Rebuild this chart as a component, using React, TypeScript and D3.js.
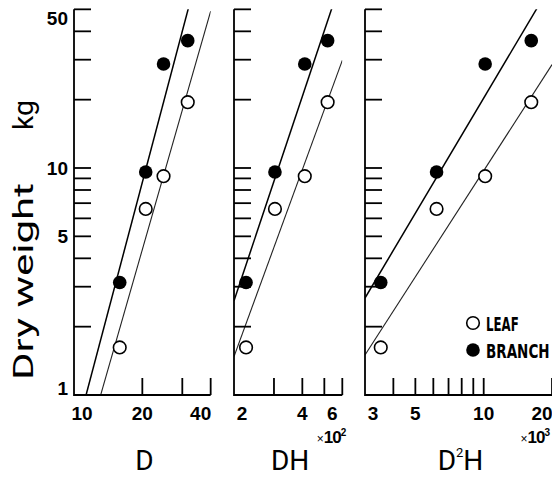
import React from 'react';
import * as d3 from 'd3';

// tree measurements (same four trees in every panel)
const dbh = [15.9, 20.7, 24.8, 31.7];
const dbhHeight = [226, 303, 410, 517];
const dbh2Height = [3520, 6200, 10150, 16200];

// dry weight, kg
const leafWeight = [1.62, 6.6, 9.2, 19.5];
const branchWeight = [3.13, 9.6, 28.7, 36.4];

// log10 W = a + b log10 X  for each panel
const leafFit = [[-3.9, 3.49], [-6.124, 2.735], [-5.224, 1.553]];
const branchFit = [[-3.981, 3.78], [-6.465, 2.99], [-5.432, 1.685]];

const yTicks = [2, 3, 4, 5, 6, 7, 8, 9, 10, 20, 30, 40, 50];
const yLabels = [1, 5, 10, 50];

const xDomains = [[10, 40], [200, 600], [3000, 20000]];
const xTickSets = [
  [20, 30, 40],
  [300, 400, 500, 600],
  [4000, 5000, 6000, 7000, 8000, 9000, 10000, 20000],
];
const xLabelSets = [[10, 20, 40], [200, 400, 600], [3000, 5000, 10000, 20000]];
const xFactors = [1, 100, 1000];
const xTitles = ['D', 'DH', 'D2H'];
const xValues = [dbh, dbhHeight, dbh2Height];

const DECADE = 227;
const BASE = 395;
const panelStarts = [74, 234, 365];
const TICK = 17;
const labelFont = '"Liberation Sans", Arial, sans-serif';

const y = d3.scaleLog().domain([1, 50]).range([BASE, BASE - DECADE * Math.log10(50)]);

const App: React.FC = () => {
  const panels = xDomains.map((dom, i) => {
    const x0 = panelStarts[i];
    const x1 = x0 + DECADE * Math.log10(dom[1] / dom[0]);
    const x = d3.scaleLog().domain(dom).range([x0, x1]);
    return { i, x, x0, x1 };
  });
  const yTop = y(50);

  const fitLine = (x: d3.ScaleLogarithmic<number, number>, fit: number[]) => {
    const pts = x.domain().map(v => [x(v), y(Math.pow(10, fit[0] + fit[1] * Math.log10(v)))] as [number, number]);
    return d3.line()(pts) || '';
  };

  return (
    <svg width={552} height={477} style={{ position: 'absolute', left: 0, top: 0, background: '#fff' }}>
      <defs>
        {panels.map(p => (
          <clipPath id={`clip${p.i}`} key={p.i}>
            <rect x={p.x0} y={yTop} width={p.x1 - p.x0} height={BASE - yTop} />
          </clipPath>
        ))}
      </defs>

      {/* y title */}
      <g fontFamily="Roboto, sans-serif" fontSize={28} fill="#000">
        <text transform="translate(33,281.5) rotate(-90)" textAnchor="middle" textLength={197} lengthAdjust="spacingAndGlyphs">Dry weight</text>
        <text transform="translate(33,115) rotate(-90)" textAnchor="middle" textLength={30} lengthAdjust="spacingAndGlyphs">kg</text>
      </g>

      {/* y tick labels */}
      <g fontFamily={labelFont} fontWeight="bold" fontSize={19} textAnchor="end">
        {yLabels.map(v => (
          <text key={v} x={68} y={Math.min(Math.max(y(v) + 7, 25), BASE)}>{v}</text>
        ))}
      </g>

      {panels.map(p => (
        <g key={p.i}>
          {/* fitted lines */}
          <g clipPath={`url(#clip${p.i})`} fill="none">
            <path d={fitLine(p.x, branchFit[p.i])} stroke="#000" strokeWidth={1.5} />
            <path d={fitLine(p.x, leafFit[p.i])} stroke="#222" strokeWidth={1.1} />
          </g>

          {/* axes */}
          <g stroke="#000" strokeWidth={1.8} fill="none">
            <path d={`M${p.x0},${yTop}V${BASE}H${p.x1}`} />
            {yTicks.map(v => (
              <line key={v} x1={p.x0} x2={p.x0 + TICK} y1={y(v)} y2={y(v)} />
            ))}
            {xTickSets[p.i].map(v => (
              <line key={v} x1={p.x(v)} x2={p.x(v)} y1={BASE} y2={BASE - TICK} />
            ))}
          </g>

          {/* x tick labels */}
          <g fontFamily={labelFont} fontWeight="bold" fontSize={19} textAnchor="middle">
            {xLabelSets[p.i].map(v => (
              <text key={v} x={Math.min(Math.max(p.x(v), p.x0 + 8), p.x1 - 10)} y={420}>
                {v / xFactors[p.i]}
              </text>
            ))}
          </g>

          {/* points */}
          {xValues[p.i].map((v, j) => (
            <circle key={`l${j}`} cx={p.x(v)} cy={y(leafWeight[j])} r={6.3} fill="#fff" stroke="#000" strokeWidth={1.6} />
          ))}
          {xValues[p.i].map((v, j) => (
            <circle key={`b${j}`} cx={p.x(v)} cy={y(branchWeight[j])} r={6.8} fill="#000" />
          ))}

          {/* axis title */}
          <text x={(p.x0 + p.x1) / 2 + 2} y={470} textAnchor="middle" fontFamily="Roboto, sans-serif" fontSize={28}>
            {xTitles[p.i] === 'D2H' ? (
              <>
                D<tspan fontSize={13} dy={-13}>2</tspan><tspan dy={13}>H</tspan>
              </>
            ) : xTitles[p.i]}
          </text>

          {/* multiplier */}
          {xFactors[p.i] > 1 && (
            <text x={Math.min(p.x1 + 4, 550)} y={443} textAnchor="end" fontFamily={labelFont}>
              <tspan fontSize={12}>×</tspan>
              <tspan fontSize={17} fontWeight="bold" letterSpacing={-1}>10</tspan>
              <tspan fontSize={10} fontWeight="bold" dy={-7}>{Math.log10(xFactors[p.i])}</tspan>
            </text>
          )}
        </g>
      ))}

      {/* legend */}
      <g fontFamily='"DejaVu Sans", sans-serif' fontWeight="bold" fontSize={19}>
        <circle cx={473} cy={323} r={6.3} fill="#fff" stroke="#000" strokeWidth={1.6} />
        <text transform="translate(486,331) scale(0.62,1)">LEAF</text>
        <circle cx={473} cy={350} r={6.8} fill="#000" />
        <text transform="translate(486,358) scale(0.71,1)">BRANCH</text>
      </g>
    </svg>
  );
};

export default App;
